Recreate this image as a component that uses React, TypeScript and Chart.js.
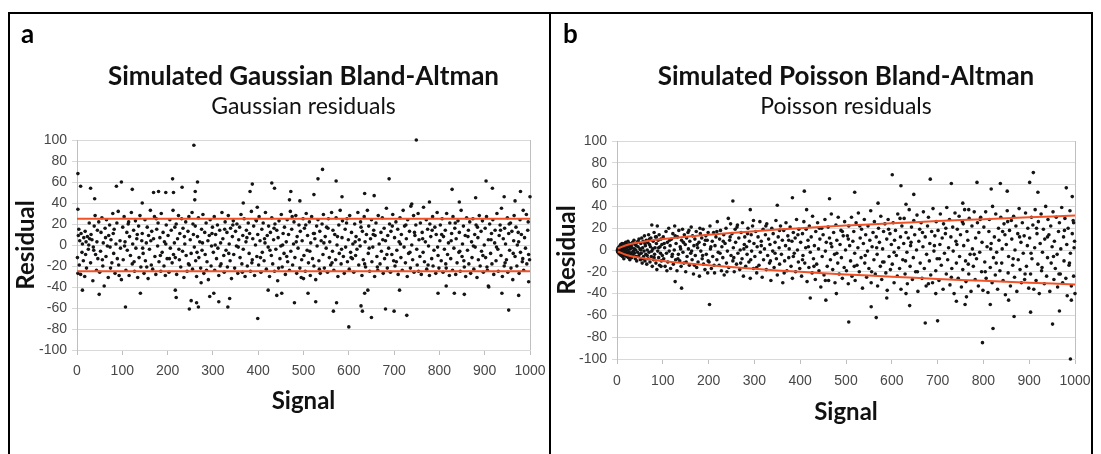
import React, { useEffect, useRef, useState } from "react";
import { Chart, registerables } from "chart.js";

Chart.register(...registerables);

// ---------- tick labels ----------
const signalTickLabels = ["0", "100", "200", "300", "400", "500", "600", "700", "800", "900", "1000"];
const residualTickLabels = ["-100", "-80", "-60", "-40", "-20", "0", "20", "40", "60", "80", "100"];

// ---------- panel a : Gaussian (signal, residual) ----------
const gaussianPoints: [number, number][] = [
  [1,-12],[2,-27],[3,9],[5,-19],[6,4],[8,-28],[9,11],[11,-7],[12,1],[14,-15],[15,7],[17,-30],[18,13],[20,3],[21,-22],[23,8],[25,-4],[26,0],[28,6],[30,-17],[31,10],[33,5],[35,-34],[36,-2],[38,18],[40,28],[41,-9],[43,-24],[45,14],[46,-13],[48,22],[50,-26],[52,-6],[53,12],[55,26],[57,-20],[58,2],[60,-39],[62,16],[64,-11],[65,24],[67,-1],[69,-31],[70,9],[72,19],[74,-22],[75,5],[77,-17],[79,30],[81,-8],[82,15],[84,-27],[86,1],[88,21],[89,-13],[91,32],[93,-29],[95,4],[96,-3],[98,-33],
  [101,17],[102,-14],[104,27],[106,3],[108,-24],[110,12],[111,-5],[113,20],[115,-29],[116,8],[118,-10],[120,31],[122,-18],[123,1],[125,14],[127,-25],[129,23],[130,-3],[132,6],[134,-31],[136,18],[137,-12],[139,28],[141,-21],[143,4],[144,11],[146,-8],[148,-27],[150,24],[151,-15],[153,2],[155,17],[157,-32],[158,9],[160,-4],[162,33],[164,-19],[165,13],[167,-23],[169,6],[171,27],[172,-11],[174,-28],[176,15],[178,-1],[179,21],[181,-16],[183,7],[185,-25],[186,30],[188,-7],[190,12],[192,-20],[193,3],[195,-29],[197,19],[199,-13],
  [201,9],[203,-26],[205,24],[206,-3],[208,14],[210,-17],[212,33],[213,-9],[215,2],[217,-12],[219,20],[220,-28],[222,6],[224,28],[226,-14],[227,11],[229,-21],[231,25],[233,-6],[234,16],[236,-31],[238,1],[240,22],[241,-10],[243,-25],[245,13],[247,27],[248,-19],[250,5],[252,-8],[254,31],[255,-23],[257,10],[259,-2],[261,18],[262,-15],[264,-30],[266,8],[268,26],[269,-12],[271,3],[273,-22],[275,15],[276,-5],[278,29],[280,-27],[282,12],[283,-9],[285,21],[287,-16],[289,4],[290,-33],[292,9],[294,24],[296,-20],[297,-1],[299,17],
  [301,-7],[303,27],[304,-24],[306,10],[308,-13],[310,19],[311,-3],[313,-29],[315,14],[317,2],[318,-18],[320,31],[322,6],[324,-10],[325,-26],[327,22],[329,-5],[331,12],[332,-21],[334,28],[336,1],[338,-15],[339,16],[341,-32],[343,8],[345,23],[346,-9],[348,-22],[350,13],[352,-1],[353,20],[355,-27],[357,5],[359,17],[360,-12],[362,29],[364,-18],[366,9],[367,-4],[369,25],[371,-30],[373,3],[374,14],[376,-20],[378,21],[380,-8],[381,11],[383,-25],[385,32],[387,-14],[388,6],[390,18],[392,-29],[394,0],[395,24],[397,-11],[399,10],
  [401,-19],[402,27],[404,4],[406,-26],[408,15],[409,-7],[411,21],[413,-15],[415,2],[416,31],[418,-23],[420,9],[422,-2],[423,18],[425,-30],[427,12],[429,-10],[430,26],[432,-18],[434,5],[436,-25],[437,20],[439,-4],[441,14],[443,-34],[444,7],[446,23],[448,-13],[450,-1],[451,29],[453,-21],[455,11],[457,-8],[458,17],[460,-28],[462,3],[464,24],[465,-16],[467,10],[469,-24],[471,32],[472,-6],[474,15],[476,-19],[478,1],[479,22],[481,-12],[483,28],[485,-27],[486,8],[488,-3],[490,19],[492,-22],[493,13],[495,-31],[497,4],[499,25],
  [501,-10],[502,16],[504,-25],[506,30],[508,-5],[509,9],[511,-17],[513,22],[515,-29],[516,2],[518,27],[520,-13],[522,11],[523,-20],[525,6],[527,-33],[529,18],[530,-1],[532,24],[534,-15],[536,13],[537,-27],[539,4],[541,20],[543,-9],[544,29],[546,-22],[548,8],[550,-3],[551,17],[553,-26],[555,25],[557,-12],[558,3],[560,-19],[562,31],[564,-6],[565,14],[567,-24],[569,10],[571,-14],[572,26],[574,0],[576,-30],[578,19],[579,-8],[581,33],[583,-18],[585,7],[586,23],[588,-11],[590,-27],[592,15],[593,-2],[595,21],[597,-16],[599,5],
  [601,-23],[602,28],[604,-7],[606,12],[608,-13],[609,1],[611,-26],[613,20],[615,-10],[616,8],[618,-4],[620,31],[622,-19],[623,5],[625,-1],[627,17],[629,-29],[630,13],[632,-14],[634,27],[636,3],[637,-21],[639,10],[641,33],[643,-8],[644,18],[646,-25],[648,6],[650,24],[651,-16],[653,-2],[655,14],[657,-30],[658,9],[660,21],[662,-11],[664,-24],[665,28],[667,1],[669,-18],[671,12],[672,-6],[674,26],[676,-27],[678,16],[679,-13],[681,4],[683,35],[685,-22],[686,9],[688,-3],[690,20],[692,-26],[693,13],[695,-9],[697,29],[699,-15],
  [701,7],[702,-20],[704,22],[706,-5],[708,15],[709,-28],[711,3],[713,26],[715,-12],[716,10],[718,-24],[720,33],[722,-2],[723,18],[725,-17],[727,6],[729,-30],[730,24],[732,-8],[734,13],[736,-22],[737,37],[739,0],[741,-14],[743,28],[744,-26],[746,9],[748,19],[750,-4],[751,-19],[753,30],[755,5],[757,-11],[758,21],[760,-28],[762,12],[764,-7],[765,36],[767,-16],[769,3],[771,24],[772,-23],[774,15],[776,-1],[778,-29],[779,20],[781,8],[783,-13],[785,27],[786,-20],[788,-5],[790,17],[792,-27],[793,10],[795,31],[797,-10],[799,-22],
  [801,4],[802,19],[804,-15],[806,25],[808,-26],[809,8],[811,-4],[813,14],[815,-22],[816,30],[818,-9],[820,2],[822,-29],[823,21],[825,-13],[827,11],[829,-24],[830,27],[832,-3],[834,16],[836,-28],[837,6],[839,-17],[841,23],[843,-7],[844,12],[846,-25],[848,33],[850,-11],[851,1],[853,18],[855,-21],[857,9],[858,-30],[860,26],[862,-5],[864,14],[865,-18],[867,22],[869,-27],[871,3],[872,-12],[874,25],[876,-23],[878,10],[879,-2],[881,19],[883,-31],[885,7],[886,-14],[888,28],[890,-20],[892,13],[893,-6],[895,23],[897,-26],[899,0],
  [901,16],[902,-12],[904,27],[906,-24],[908,5],[909,-40],[911,20],[913,-8],[915,11],[916,-18],[918,24],[920,-28],[922,2],[923,14],[925,-15],[927,30],[929,-4],[930,-25],[932,9],[934,19],[936,-10],[937,35],[939,-30],[941,6],[943,-20],[944,16],[946,1],[948,-14],[950,26],[951,-26],[953,11],[955,-5],[957,21],[958,-22],[960,13],[962,-33],[964,4],[965,28],[967,-11],[969,17],[971,-20],[972,0],[974,12],[976,-27],[978,24],[979,-7],[981,10],[983,-16],[985,33],[986,-24],[988,7],[990,-3],[992,29],[993,-18],[995,14],[997,-9],[999,-14],
  [4,15],[19,-9],[27,21],[37,-5],[44,3],[56,-14],[63,7],[73,-2],[80,11],[92,-19],
  [105,-1],[114,22],[126,-16],[133,10],[145,-3],[154,-21],[163,4],[175,25],[184,-10],[196,1],
  [204,-13],[216,17],[225,-4],[237,8],[246,-18],[256,20],[265,-7],[277,2],[286,-24],[298,11],
  [305,0],[316,-20],[326,15],[335,-8],[344,19],[356,-2],[365,-26],[375,7],[386,-17],[396,23],
  [405,-12],[414,6],[426,-5],[435,16],[445,-22],[454,0],[463,-11],[475,27],[484,3],[496,-14],
  [505,19],[514,-6],[524,11],[535,-23],[545,2],[554,16],[563,-17],[575,8],[584,-4],[596,25],
  [605,-12],[614,3],[626,22],[635,-18],[645,-3],[654,10],[663,-21],[675,5],[684,-9],[696,18],
  [705,-16],[714,1],[726,19],[735,-7],[745,12],[754,-25],[763,6],[775,-19],[784,14],[796,-2],
  [805,10],[814,-18],[826,4],[835,21],[845,-6],[854,-15],[863,8],[875,-1],[884,17],[896,-10],
  [905,-21],[914,5],[926,-2],[935,14],[945,-17],[954,20],[963,-8],[975,3],[984,-13],[996,22],
  [2,68],[8,56],[30,54],[2,34],[39,44],[12,-43],[49,-47],[87,56],[98,60],[107,-59],[122,53],[140,-46],[144,40],[169,50],[180,51],[196,50],[211,63],[213,50],[232,55],[258,95],[266,60],[261,51],[260,43],[252,-53],[248,-61],[268,-59],[264,-55],[217,-43],[219,-50],[274,-36],[293,-49],[302,-46],[313,-54],[333,-59],[337,-51],[367,40],[387,58],[382,51],[399,-70],[398,36],[430,59],[436,54],[422,-43],[441,-48],[452,-46],[469,43],[472,51],[480,-55],[492,42],[500,-32],[510,-46],[523,48],[527,-54],[532,63],[542,72],[572,61],[566,-63],[573,-55],[585,46],[600,-78],[635,49],[627,-58],[630,-63],[635,-46],[642,-43],[650,-69],[656,47],[689,63],[681,-61],[700,-63],[712,-43],[728,-67],[749,100],[739,39],[778,41],[797,-46],[815,-39],[828,53],[844,41],[833,-46],[855,-47],[880,45],[903,61],[917,54],[908,-39],[938,-46],[943,46],[953,-62],[975,-48],[979,51],[1000,46],[997,-35],[967,42]
];
const gaussianLimitSignal = [0, 1000];
const gaussianUpperLimit = [25, 25];
const gaussianLowerLimit = [-25, -25];

// ---------- panel b : Poisson (signal, residual) ----------
const poissonPoints: [number, number][] = [
  [1,0],[1,-1],[2,1],[2,-2],[3,2],[3,0],[4,-3],[4,1],[5,3],[5,-1],[6,-4],[6,2],[7,0],[7,4],[8,-2],[8,5],[9,-5],[9,1],[10,3],[10,-3],[11,6],[11,-1],[12,-6],[12,2],[13,0],[14,4],[14,-4],[15,-8],[16,1],[16,6],[17,-2],[18,3],[18,-5],[19,7],[20,-1],[20,2],[21,-6],[22,5],[23,-3],[24,0],[24,8],[25,-7],[26,3],[27,-2],[28,6],[28,-9],[29,1],[30,-4],[31,4],[32,-7],[33,2],[34,7],[35,-5],[36,-1],[37,9],[38,-3],[39,5],[40,-8],[41,0],[42,4],[43,-10],[44,7],[45,-2],[46,3],[47,-6],[48,10],[49,-4],[50,1],
  [51,-9],[52,6],[53,-3],[54,11],[55,-12],[56,2],[57,8],[58,-6],[59,-1],[60,13],[61,-10],[62,4],[63,-4],[64,9],[65,-13],[66,0],[67,7],[68,-8],[69,14],[70,-2],[71,5],[72,-11],[73,3],[74,11],[75,-6],[76,23],[77,-15],[78,1],[79,8],[80,-9],[81,16],[82,-4],[83,2],[84,12],[85,-12],[86,6],[87,-18],[88,22],[89,-1],[90,9],[91,-7],[92,14],[93,-14],[94,3],[95,-3],[96,10],[97,-10],[98,5],[99,-5],
  [101,12],[102,-8],[104,2],[105,-15],[107,17],[108,-3],[110,7],[111,-11],[113,20],[114,-1],[116,4],[117,-17],[119,10],[120,-6],[122,15],[123,-13],[125,0],[126,22],[128,-9],[129,6],[131,-19],[132,12],[134,-4],[135,18],[137,-10],[138,3],[140,-15],[141,9],[143,19],[144,-2],[146,-12],[147,14],[149,5],[150,-20],[152,11],[153,-6],[155,16],[156,1],[158,-14],[159,8],[161,-3],[162,21],[164,-9],[165,13],[167,-22],[168,4],[170,10],[171,-5],[173,17],[174,-16],[176,2],[177,-11],[179,7],[180,-24],[182,15],[183,-1],[185,11],[186,-8],[188,19],[189,-13],[191,5],[192,-18],[194,13],[195,-4],[197,9],[198,-21],[199,16],
  [201,-11],[203,22],[204,1],[206,-17],[208,8],[209,-6],[211,16],[213,-21],[214,4],[216,12],[218,-9],[219,26],[221,-2],[223,-14],[224,10],[226,18],[228,-19],[229,3],[231,-7],[233,14],[234,-23],[236,6],[238,20],[239,-12],[241,-1],[243,29],[244,-16],[246,9],[248,24],[249,-5],[251,15],[253,-10],[254,2],[256,-20],[258,19],[259,7],[261,-13],[263,23],[264,-3],[266,11],[268,-18],[269,0],[271,16],[273,-8],[274,25],[276,-24],[278,5],[279,12],[281,-15],[283,3],[284,-4],[286,20],[288,-11],[289,8],[291,-26],[293,14],[294,-1],[296,22],[298,-17],[299,6],
  [301,-6],[303,17],[305,-21],[306,3],[308,12],[310,-14],[312,26],[313,-2],[315,8],[317,-25],[319,19],[320,-9],[322,1],[324,14],[326,-18],[327,24],[329,-5],[331,10],[333,-12],[334,5],[336,-28],[338,20],[340,-1],[341,15],[343,-16],[345,7],[347,27],[348,-8],[350,-23],[352,12],[354,2],[355,-13],[357,22],[359,-4],[361,9],[362,-30],[364,18],[366,-10],[368,4],[369,25],[371,-19],[373,13],[375,-7],[376,1],[378,21],[380,-15],[382,8],[383,-26],[385,16],[387,-3],[389,11],[390,-20],[392,28],[394,0],[396,-11],[397,19],[399,-17],
  [401,7],[403,-24],[405,15],[406,-5],[408,26],[410,-12],[412,2],[413,19],[415,-29],[417,9],[419,-16],[420,22],[422,-2],[424,12],[426,-21],[427,31],[429,-8],[431,4],[433,-27],[434,17],[436,-13],[438,25],[440,1],[441,-19],[443,10],[445,-34],[447,20],[448,-6],[450,14],[452,-23],[454,28],[455,-1],[457,7],[459,-15],[461,21],[462,-28],[464,11],[466,-9],[468,33],[469,3],[471,-18],[473,16],[475,-4],[476,-30],[478,23],[480,9],[482,-12],[483,30],[485,-22],[487,5],[489,18],[490,-7],[492,-26],[494,13],[496,-16],[497,26],[499,0],
  [501,-19],[503,13],[505,-31],[506,22],[508,4],[510,-10],[512,30],[513,-24],[515,8],[517,17],[519,-3],[520,-28],[522,25],[524,-14],[526,2],[527,34],[529,-20],[531,11],[533,-7],[534,19],[536,-35],[538,6],[540,28],[541,-12],[543,14],[545,-25],[547,-1],[548,22],[550,-17],[552,9],[554,36],[555,-30],[557,3],[559,16],[561,-9],[562,26],[564,-22],[566,12],[568,-4],[569,-33],[571,20],[573,7],[575,-15],[576,31],[578,-27],[580,1],[582,17],[583,-11],[585,24],[587,-21],[589,10],[590,-37],[592,28],[594,-6],[596,15],[597,-18],[599,5],
  [601,-13],[603,25],[605,-30],[606,9],[608,18],[610,-5],[612,-24],[613,33],[615,2],[617,-17],[619,12],[620,-36],[622,22],[624,-9],[626,6],[627,29],[629,-22],[631,16],[633,-2],[634,-31],[636,11],[638,37],[640,-15],[641,4],[643,21],[645,-27],[647,-7],[648,27],[650,14],[652,-20],[654,0],[655,32],[657,-38],[659,8],[661,19],[662,-12],[664,25],[666,-26],[668,3],[669,35],[671,-17],[673,12],[675,-33],[676,-4],[678,22],[680,30],[682,-10],[683,6],[685,-23],[687,17],[689,-30],[690,38],[692,-1],[694,13],[696,-19],[697,26],[699,-8],
  [701,18],[703,-28],[705,5],[706,33],[708,-14],[710,11],[712,-36],[713,24],[715,-3],[717,15],[719,-22],[720,39],[722,-9],[724,2],[726,28],[727,-32],[729,12],[731,-17],[733,21],[734,-1],[736,-40],[738,34],[740,8],[741,-12],[743,19],[745,-26],[747,31],[748,-6],[750,14],[752,-34],[754,26],[755,-18],[757,4],[759,37],[761,-10],[762,-29],[764,17],[766,9],[768,-22],[769,29],[771,-4],[773,-38],[775,22],[776,1],[778,-15],[780,35],[782,-27],[783,11],[785,-8],[787,25],[789,-33],[790,16],[792,-2],[794,30],[796,-20],[797,7],[799,-37],
  [801,21],[803,-11],[805,35],[806,-26],[808,3],[810,-39],[812,17],[813,28],[815,-16],[817,6],[819,-30],[820,40],[822,-7],[824,12],[826,-23],[827,33],[829,-2],[831,-36],[833,20],[834,9],[836,-19],[838,30],[840,-12],[841,1],[843,-28],[845,24],[847,14],[848,-41],[850,5],[852,36],[854,-21],[855,-6],[857,18],[859,-33],[861,27],[862,10],[864,-14],[866,31],[868,-25],[869,0],[871,22],[873,-38],[875,15],[876,-9],[878,38],[880,-18],[882,7],[883,-30],[885,25],[887,-3],[889,13],[890,-27],[892,34],[894,-15],[896,4],[897,20],[899,-35],
  [901,11],[903,-22],[905,30],[906,-8],[908,23],[910,-36],[912,2],[913,37],[915,-28],[917,15],[919,-13],[920,26],[922,-40],[924,6],[926,33],[927,-19],[929,-2],[931,19],[933,-31],[934,10],[936,40],[938,-24],[940,-7],[941,28],[943,14],[945,-38],[947,22],[948,-12],[950,3],[952,35],[954,-27],[955,8],[957,-17],[959,30],[961,-4],[962,-34],[964,17],[966,25],[968,-22],[969,1],[971,39],[973,-30],[975,12],[976,-10],[978,29],[980,-26],[982,5],[983,-42],[985,20],[987,-14],[989,36],[990,-3],[992,-33],[994,15],[996,27],[997,-24],[999,8],
  [3,-1],[6,0],[9,-2],[13,3],[17,1],[21,2],[26,-4],[30,5],[34,-2],[38,1],[42,-6],[46,8],[52,0],[56,-8],[61,6],[66,-5],[71,10],[76,-1],[81,-7],[86,12],[91,2],[96,-15],
  [103,6],[109,-19],[115,9],[121,-4],[127,13],[133,-8],[139,1],[145,7],[151,-11],[157,18],[163,-1],[169,-14],[175,5],[181,20],[187,-5],[193,9],[199,-10],
  [205,3],[212,-14],[218,17],[225,-3],[232,8],[240,-20],[247,12],[255,-7],[262,21],[270,-12],[277,1],[285,15],[292,-9],[298,27],
  [305,-16],[315,4],[325,22],[335,-10],[345,-3],[355,18],[365,-21],[375,9],[385,-6],[395,14],
  [405,-9],[418,3],[430,-15],[442,20],[455,-28],[467,6],[480,-3],[492,17],
  [505,10],[518,-15],[530,22],[542,-5],[556,-20],[567,2],[580,-11],[593,19],
  [605,-2],[618,29],[630,-10],[642,7],[656,-20],[667,16],[680,-31],[693,4],
  [704,-8],[718,20],[730,-25],[742,5],[756,24],[767,-13],[780,-4],[793,28],
  [804,-20],[816,1],[828,-12],[842,17],[853,26],[865,-8],[879,12],[891,-22],
  [904,-3],[916,20],[928,-16],[940,12],[953,-6],[965,-22],[977,18],[988,-12],[998,2],
  [202,-50],[127,-29],[141,-35],[253,45],[291,37],[350,41],[383,48],[409,54],[414,37],[422,-44],[456,-46],[464,47],[479,-40],[506,-66],[519,53],[555,-52],[566,-62],[570,43],[589,-44],[601,69],[620,59],[631,-40],[639,-51],[648,51],[673,-67],[684,65],[700,-65],[696,-40],[730,61],[741,-47],[760,-50],[763,-43],[786,62],[798,-85],[815,-50],[821,-72],[817,56],[837,61],[852,54],[855,-46],[867,-61],[901,62],[909,71],[919,53],[903,-57],[951,-68],[966,-56],[981,57],[994,49],[990,-100],[992,-46],[1000,-40],[997,25],[631,42],[768,37],[755,43]
];
const poissonLimitSignal = [2, 25, 50, 100, 200, 300, 400, 500, 600, 700, 800, 900, 1000];
const poissonUpperLimit = [1.4, 5, 7, 10, 14, 17.3, 20, 22.4, 24.5, 26.5, 28.3, 30, 31.6];
const poissonLowerLimit = [-1.4, -5, -7, -10, -14, -17.3, -20, -22.4, -24.5, -26.5, -28.3, -30, -31.6];

// ---------- styling ----------
const RED = "rgb(242, 82, 40)";
const DOT = "#141414";
const GRID = "#d9d9d9";
const AXIS = "#bfbfbf";
const TICK_TEXT = "#474747";
const TEXT = "#111111";
const TITLE_FONT = "Lato, 'Open Sans', sans-serif";
const TICK_FONT = "'Liberation Sans', Arial, sans-serif";

function toXY(xs: number[], ys: number[]) {
  return xs.map((x, i) => ({ x, y: ys[i] }));
}

function buildConfig(p: any): any {
  const limitStyle = {
    showLine: true,
    borderColor: RED,
    backgroundColor: RED,
    borderWidth: 2,
    pointRadius: 0,
    tension: p.tension,
    order: 0,
  };
  return {
    type: "scatter",
    data: {
      datasets: [
        { ...limitStyle, data: toXY(p.limitSignal, p.upper) },
        { ...limitStyle, data: toXY(p.limitSignal, p.lower) },
        {
          data: p.points.map((pt: number[]) => ({ x: pt[0], y: pt[1] })),
          backgroundColor: DOT,
          borderColor: DOT,
          borderWidth: 0,
          pointRadius: 1.8,
          order: 1,
          clip: 4,
        },
      ],
    },
    options: {
      responsive: false,
      animation: false,
      layout: { padding: { left: 0, right: p.padRight, top: 0, bottom: 0 } },
      plugins: {
        legend: { display: false },
        tooltip: { enabled: false },
        title: {
          display: true,
          text: p.title,
          fullSize: false,
          color: TEXT,
          font: { family: TITLE_FONT, size: 26, weight: "bold", lineHeight: 1 },
          padding: { top: 49, bottom: 0 },
        },
        subtitle: {
          display: true,
          text: p.subtitle,
          fullSize: false,
          color: TEXT,
          font: { family: TITLE_FONT, size: 23, weight: "normal", lineHeight: 1 },
          padding: { top: 5, bottom: p.subPadBottom },
        },
      },
      scales: {
        x: {
          type: "linear",
          min: 0,
          max: 1000,
          afterFit: (s: any) => {
            s.height = p.xHeight;
            s.paddingLeft = 0;
            s.paddingRight = 0;
          },
          ticks: {
            stepSize: 100,
            autoSkip: false,
            maxRotation: 0,
            padding: p.xTickPad,
            color: TICK_TEXT,
            font: { family: TICK_FONT, size: 14 },
            callback: (v: any) => signalTickLabels[Math.round(v / 100)],
          },
          grid: {
            color: (ctx: any) => (ctx.tick && ctx.tick.value === 1000 ? AXIS : "rgba(0,0,0,0)"),
            tickColor: AXIS,
            tickLength: 5,
          },
          border: { display: true, color: GRID },
          title: {
            display: true,
            text: "Signal",
            color: TEXT,
            font: { family: TITLE_FONT, size: 24, weight: "bold", lineHeight: 1.2 },
            padding: { top: 0, bottom: p.signalPadBottom },
          },
        },
        y: {
          type: "linear",
          min: -100,
          max: 100,
          afterFit: (s: any) => {
            s.width = p.yWidth;
            s.paddingTop = 0;
            s.paddingBottom = 0;
          },
          ticks: {
            stepSize: 20,
            padding: 5,
            color: TICK_TEXT,
            font: { family: TICK_FONT, size: 14 },
            callback: (v: any) => residualTickLabels[Math.round((v + 100) / 20)],
          },
          grid: { color: GRID, tickColor: GRID, tickLength: 5 },
          border: { display: true, color: AXIS },
          title: {
            display: true,
            text: "Residual",
            color: TEXT,
            font: { family: TITLE_FONT, size: 24, weight: "bold", lineHeight: 1.2 },
            padding: { top: p.residualPadTop, bottom: 0 },
          },
        },
      },
    },
  };
}

const panelA = {
  title: "Simulated Gaussian Bland-Altman",
  subtitle: "Gaussian residuals",
  points: gaussianPoints,
  limitSignal: gaussianLimitSignal,
  upper: gaussianUpperLimit,
  lower: gaussianLowerLimit,
  tension: 0,
  left: 10,
  top: 15,
  width: 539,
  height: 439,
  yWidth: 67,
  xHeight: 104,
  padRight: 19,
  subPadBottom: 22,
  xTickPad: 8,
  signalPadBottom: 38.6,
  residualPadTop: 1.6,
};

const panelB = {
  title: "Simulated Poisson Bland-Altman",
  subtitle: "Poisson residuals",
  points: poissonPoints,
  limitSignal: poissonLimitSignal,
  upper: poissonUpperLimit,
  lower: poissonLowerLimit,
  tension: 0.4,
  left: 552,
  top: 15,
  width: 539,
  height: 439,
  yWidth: 65,
  xHeight: 95,
  padRight: 16,
  subPadBottom: 23,
  xTickPad: 9,
  signalPadBottom: 27.6,
  residualPadTop: 1.2,
};

function Panel(props: { spec: any; onError: (s: string) => void }) {
  const { spec, onError } = props;
  const ref = useRef<HTMLCanvasElement | null>(null);
  useEffect(() => {
    if (!ref.current) return;
    let chart: any = null;
    try {
      chart = new Chart(ref.current, buildConfig(spec));
    } catch (e: any) {
      onError(String(e && e.stack ? e.stack : e));
    }
    return () => {
      if (chart) chart.destroy();
    };
  }, []);
  return (
    <canvas
      ref={ref}
      width={spec.width}
      height={spec.height}
      style={{ position: "absolute", left: spec.left - 8, top: spec.top - 8, width: spec.width, height: spec.height }}
    />
  );
}

const letterStyle = {
  position: "absolute" as const,
  fontFamily: TITLE_FONT,
  fontWeight: 700,
  fontSize: 26,
  lineHeight: "26px",
  color: "#000",
};

export default function App() {
  const [err, setErr] = useState("");
  return (
    <div style={{ position: "relative", width: 1085, height: 446 }}>
      <div
        style={{
          position: "absolute",
          left: 0,
          top: 4,
          width: 1085,
          height: 442,
          borderTop: "2px solid #000",
          borderLeft: "2px solid #000",
          borderRight: "2px solid #000",
          boxSizing: "border-box",
        }}
      />
      <div style={{ position: "absolute", left: 541, top: 4, width: 2, height: 442, background: "#000" }} />
      <Panel spec={panelA} onError={setErr} />
      <Panel spec={panelB} onError={setErr} />
      <div style={{ ...letterStyle, left: 13, top: 12 }}>a</div>
      <div style={{ ...letterStyle, left: 555, top: 12 }}>b</div>
      {err ? <div style={{ position: "absolute", left: 20, top: 200, fontSize: 11, color: "red", width: 1000 }}>{err}</div> : null}
    </div>
  );
}
